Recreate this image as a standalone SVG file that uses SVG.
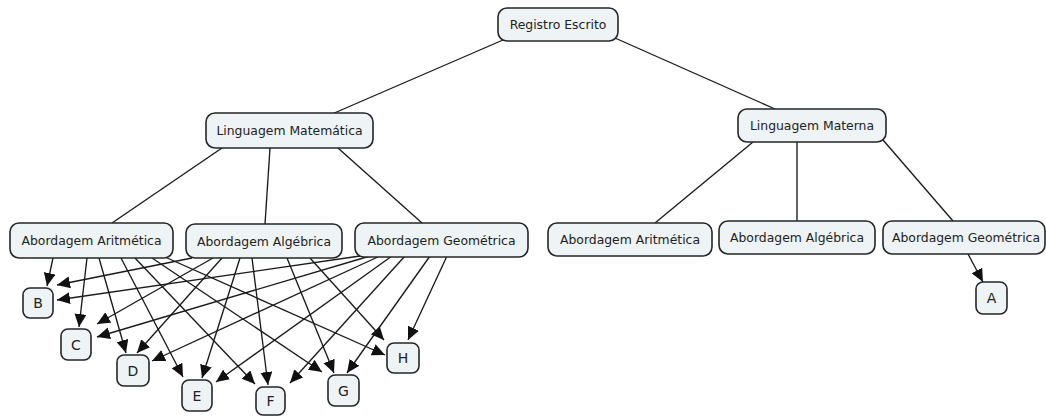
<svg xmlns="http://www.w3.org/2000/svg" width="1046" height="416" viewBox="0 0 1046 416">
  <style>
    .node rect { fill: #eef3f5; stroke: #262626; stroke-width: 1.6; }
    .node text { font-family: "DejaVu Sans", Verdana, sans-serif; font-size: 12.4px; fill: #222222; text-anchor: middle; }
    .node.small text { font-size: 14px; }
    #connectors line { stroke: #1a1a1a; stroke-width: 1.35; fill: none; }
    #connectors .arrow line { marker-end: url(#head); }
  </style>
  <defs>
    <marker id="head" markerUnits="userSpaceOnUse" markerWidth="15" markerHeight="13" refX="13" refY="6" orient="auto">
      <path d="M0,0 L13,6 L0,12 Z" fill="#111"/>
    </marker>
  </defs>
  <rect width="1046" height="416" fill="#ffffff"/>

  <g id="connectors">
    <!-- hierarchy links -->
    <line x1="503" y1="40" x2="332" y2="114"/>
    <line x1="615" y1="38" x2="775" y2="109"/>
    <line x1="222" y1="148" x2="112" y2="223"/>
    <line x1="270" y1="148" x2="265" y2="224"/>
    <line x1="338" y1="148" x2="422" y2="223"/>
    <line x1="753" y1="142" x2="655" y2="223"/>
    <line x1="797" y1="142" x2="797" y2="221"/>
    <line x1="883" y1="140" x2="953" y2="221"/>
    <!-- arrows to letters -->
    <g class="arrow">
      <line x1="968" y1="254" x2="983" y2="282"/>
      <!-- from Abordagem Aritmética -->
      <line x1="53" y1="258" x2="47" y2="286"/>
      <line x1="87" y1="258" x2="79" y2="327"/>
      <line x1="99" y1="258" x2="126" y2="353"/>
      <line x1="121" y1="258" x2="183" y2="377"/>
      <line x1="135" y1="258" x2="255" y2="384"/>
      <line x1="152" y1="258" x2="322" y2="372"/>
      <line x1="165" y1="257" x2="385" y2="355"/>
      <!-- from Abordagem Algébrica -->
      <line x1="192" y1="258" x2="57" y2="285"/>
      <line x1="213" y1="258" x2="97" y2="324"/>
      <line x1="222" y1="258" x2="137" y2="353"/>
      <line x1="240" y1="258" x2="202" y2="378"/>
      <line x1="252" y1="258" x2="268" y2="385"/>
      <line x1="287" y1="258" x2="334" y2="373"/>
      <line x1="310" y1="258" x2="384" y2="340"/>
      <!-- from Abordagem Geométrica -->
      <line x1="360" y1="256" x2="57" y2="300"/>
      <line x1="370" y1="256" x2="97" y2="337"/>
      <line x1="380" y1="256" x2="152" y2="361"/>
      <line x1="392" y1="256" x2="216" y2="382"/>
      <line x1="405" y1="256" x2="290" y2="383"/>
      <line x1="430" y1="256" x2="347" y2="373"/>
      <line x1="447" y1="256" x2="408" y2="340"/>
    </g>
  </g>

  <g id="registro-escrito" class="node"><rect x="498" y="8" width="120" height="33" rx="9"/><text x="558" y="29">Registro Escrito</text></g>
  <g id="linguagem-matematica" class="node"><rect x="206" y="113" width="167" height="35" rx="9"/><text x="289.5" y="135">Linguagem Matemática</text></g>
  <g id="linguagem-materna" class="node"><rect x="738" y="109" width="148" height="33" rx="9"/><text x="812" y="130">Linguagem Materna</text></g>

  <g id="mat-aritmetica" class="node"><rect x="10" y="223" width="163" height="35" rx="9"/><text x="91.5" y="245">Abordagem Aritmética</text></g>
  <g id="mat-algebrica" class="node"><rect x="186" y="224" width="156" height="34" rx="9"/><text x="264" y="246">Abordagem Algébrica</text></g>
  <g id="mat-geometrica" class="node"><rect x="355" y="223" width="173" height="34" rx="9"/><text x="441.5" y="245">Abordagem Geométrica</text></g>

  <g id="mat-aritmetica-2" class="node"><rect x="548" y="223" width="164" height="33" rx="9"/><text x="630" y="244">Abordagem Aritmética</text></g>
  <g id="mat-algebrica-2" class="node"><rect x="719" y="221" width="156" height="33" rx="9"/><text x="797" y="242">Abordagem Algébrica</text></g>
  <g id="mat-geometrica-2" class="node"><rect x="883" y="221" width="162" height="33" rx="9"/><text x="966" y="242">Abordagem Geométrica</text></g>

  <g id="node-a" class="node small"><rect x="976" y="282" width="31" height="32" rx="7"/><text x="991.5" y="303">A</text></g>
  <g id="node-b" class="node small"><rect x="23" y="288" width="30" height="30" rx="7"/><text x="38" y="308">B</text></g>
  <g id="node-c" class="node small"><rect x="61" y="329" width="30" height="31" rx="7"/><text x="76" y="350">C</text></g>
  <g id="node-d" class="node small"><rect x="117" y="355" width="32" height="31" rx="7"/><text x="133" y="376">D</text></g>
  <g id="node-e" class="node small"><rect x="182" y="380" width="30" height="31" rx="7"/><text x="197" y="401">E</text></g>
  <g id="node-f" class="node small"><rect x="256" y="387" width="29" height="28" rx="7"/><text x="270.5" y="406">F</text></g>
  <g id="node-g" class="node small"><rect x="328" y="375" width="31" height="31" rx="7"/><text x="343.5" y="396">G</text></g>
  <g id="node-h" class="node small"><rect x="387" y="343" width="32" height="30" rx="7"/><text x="403" y="363">H</text></g>
</svg>
